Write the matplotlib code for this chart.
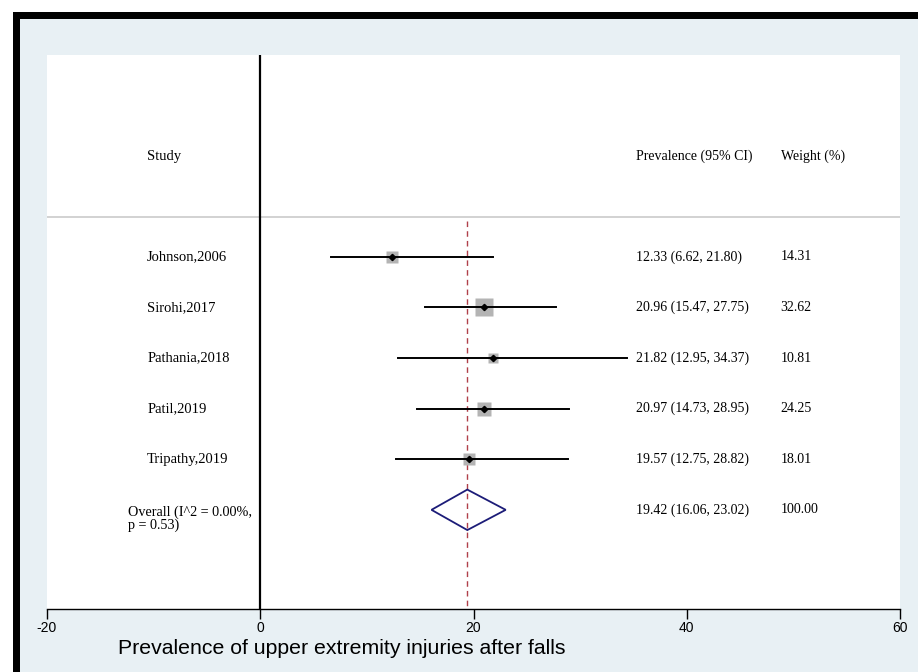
import matplotlib
matplotlib.use("Agg")
import matplotlib.pyplot as plt
from matplotlib.patches import Rectangle, Polygon
import numpy as np

studies = ["Johnson,2006", "Sirohi,2017", "Pathania,2018", "Patil,2019", "Tripathy,2019"]
est = [12.33, 20.96, 21.82, 20.97, 19.57]
lo = [6.62, 15.47, 12.95, 14.73, 12.75]
hi = [21.80, 27.75, 34.37, 28.95, 28.82]
weights = [14.31, 32.62, 10.81, 24.25, 18.01]
overall_label = "Overall (I^2 = 0.00%,\np = 0.53)"
overall = (19.42, 16.06, 23.02)
overall_weight = 100.00
xticks = [-20, 0, 20, 40, 60]
xlabel = "Prevalence of upper extremity injuries after falls"

W, H = 918, 672
fig = plt.figure(figsize=(W / 100, H / 100), dpi=100)
fig.patch.set_facecolor("white")
# outer black frame and light blue background
fig.patches.append(Rectangle((13 / W, 0), 1, 1 - 12 / H, transform=fig.transFigure,
                             facecolor="black", edgecolor="none", zorder=-3))
fig.patches.append(Rectangle((20 / W, 0), 1, 1 - 19 / H, transform=fig.transFigure,
                             facecolor="#e8f0f4", edgecolor="none", zorder=-2))

ax = fig.add_axes([47 / W, 1 - 609 / H, 853 / W, 554 / H])
ax.set_facecolor("white")
ax.set_xlim(-20, 60)
ax.set_ylim(6.96, -3.99)
for s in ["top", "right", "left"]:
    ax.spines[s].set_visible(False)
ax.spines["bottom"].set_linewidth(1.0)
ax.set_yticks([])
ax.set_xticks(xticks)
ax.set_xticklabels([str(t) for t in xticks], family=["Liberation Sans Narrow", "Liberation Sans"],
                   fontsize=10)
ax.tick_params(axis="x", length=7.5, width=1, pad=1.5)

serif = ["Liberation Serif", "DejaVu Serif"]
fs = 10.5
fs2 = 10

xs_lab = -10.6
xs_ov = -12.4
xs_ci = 35.2
xs_w = 48.8

# header
hy = -1.98
ax.text(xs_lab, hy, "Study", family=serif, fontsize=fs, va="center", ha="left")
ax.text(xs_ci, hy, "Prevalence (95% CI)", family=serif, fontsize=fs2, va="center", ha="left")
ax.text(xs_w, hy, "Weight (%)", family=serif, fontsize=fs2, va="center", ha="left")
ax.axhline(-0.79, color="#cfcfcf", lw=1.3)

# vertical line at 0
ax.axvline(0, color="black", lw=1.6)
# overall dashed line
ax.plot([overall[0], overall[0]], [-0.7, 6.96], color="#b0404a", lw=1.0,
        dashes=(4, 3))

n = len(studies)
rows = np.arange(n)
maxw = max(weights)
for i in range(n):
    ax.plot([lo[i], hi[i]], [rows[i], rows[i]], color="black", lw=1.4, zorder=3)
    side = 12.5 * np.sqrt(weights[i] / maxw)
    ax.plot(est[i], rows[i], marker="s", ms=side, color="#b4b4b4", mec="none", zorder=2)
    ax.plot(est[i], rows[i], marker="D", ms=3.2, color="black", zorder=4)
    ax.text(xs_lab, rows[i], studies[i], family=serif, fontsize=fs, va="center", ha="left")
    ax.text(xs_ci, rows[i], f"{est[i]:.2f} ({lo[i]:.2f}, {hi[i]:.2f})", family=serif,
            fontsize=fs2, va="center", ha="left")
    ax.text(xs_w, rows[i], f"{weights[i]:.2f}", family=serif, fontsize=fs2,
            va="center", ha="left")

# overall diamond
oy = n
dh = 0.4
diamond = Polygon([[overall[1], oy], [overall[0], oy - dh], [overall[2], oy], [overall[0], oy + dh]],
                  closed=True, facecolor="none", edgecolor="#1c1c78", lw=1.3, zorder=3)
ax.add_patch(diamond)
ax.text(xs_ov, oy + 0.17, overall_label, family=serif, fontsize=10.2, va="center", ha="left",
        linespacing=0.95)
ax.text(xs_ci, oy, f"{overall[0]:.2f} ({overall[1]:.2f}, {overall[2]:.2f})", family=serif,
        fontsize=fs2, va="center", ha="left")
ax.text(xs_w, oy, f"{overall_weight:.2f}", family=serif, fontsize=fs2, va="center", ha="left")

fig.text(118 / W, 1 - 648 / H, xlabel, family=["Liberation Sans", "DejaVu Sans"], fontsize=15.3,
         va="center", ha="left")

fig.savefig("out.png", dpi=100)
